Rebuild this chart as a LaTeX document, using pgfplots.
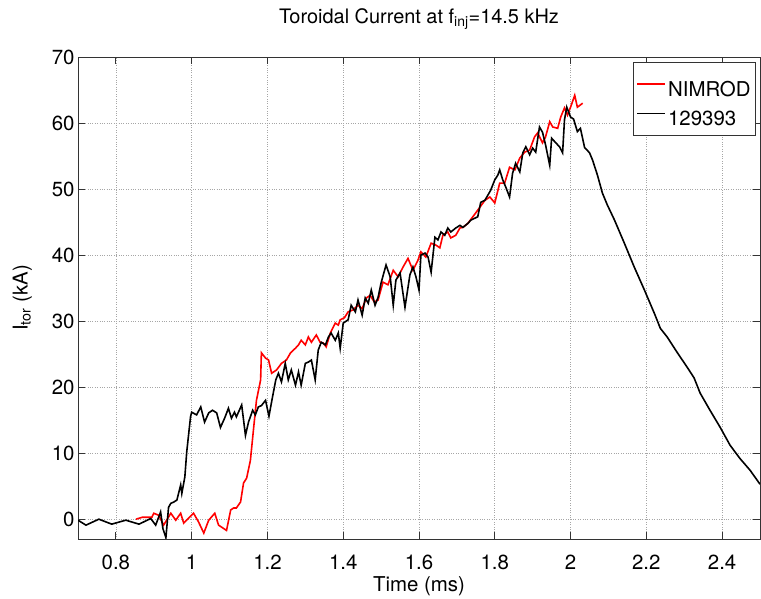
\documentclass[border=0pt]{standalone}
\usepackage{fontspec}
\setmainfont{TeX Gyre Heros}
\usepackage{pgfplots}
\pgfplotsset{compat=1.18}
\definecolor{axgray}{HTML}{333333}
\begin{document}
\begin{tikzpicture}
\useasboundingbox (0,0) rectangle (761bp,599bp);
\begin{axis}[
  at={(78bp,60bp)}, anchor=south west,
  scale only axis, width=682bp, height=482bp,
  xmin=0.7, xmax=2.5, ymin=-3, ymax=70,
  xtick={0.8,1,1.2,1.4,1.6,1.8,2,2.2,2.4},
  ytick={0,10,20,30,40,50,60,70},
  /pgf/number format/assume math mode=true,
  grid=major,
  major grid style={dotted, gray!70, line width=0.7bp},
  tick align=inside, major tick length=7bp,
  axis line style={axgray, line width=0.8bp},
  tick style={axgray, line width=0.8bp},
  tick label style={font=\fontsize{20.5}{24}\selectfont},
  xticklabel style={yshift=-12bp},
  label style={font=\fontsize{20.5}{24}\selectfont},
  xlabel style={yshift=0bp},
  ylabel style={yshift=13bp},
  title style={font=\fontsize{20}{24}\selectfont, yshift=18bp},
  xlabel={Time (ms)},
  ylabel={I\textsubscript{tor} (kA)},
  title={Toroidal Current at f\textsubscript{inj}=14.5 kHz},
  legend cell align=left,
  legend image code/.code={\draw[#1, line width=1.6bp] (0bp,0bp) -- (28bp,0bp);},
  legend style={at={(1,1)}, anchor=north east, xshift=-4bp, yshift=-5bp,
    draw=axgray, line width=0.8bp, font=\fontsize{20.5}{24}\selectfont,
    inner xsep=3bp, inner ysep=6bp, row sep=-2bp,
    /tikz/every even column/.append style={text height=26bp}},
]
\addplot[red, line width=1.6bp] coordinates {
(0.853,0.0) (0.870,0.3) (0.895,0.3) (0.900,0.9) (0.913,0.6) (0.926,-0.9) (0.945,0.9)
(0.958,-0.15) (0.971,0.9) (0.979,-0.6) (0.992,0.15) (1.005,0.9) (1.018,-0.4)
(1.032,-2.1) (1.045,-0.15) (1.061,0.9) (1.071,-0.9) (1.092,-1.7) (1.103,1.4)
(1.111,1.7) (1.118,1.7) (1.129,2.6) (1.137,5.5) (1.145,6.2) (1.155,8.9)
(1.163,13.5) (1.171,18.0) (1.182,21.1) (1.184,25.2) (1.195,24.4) (1.203,24.1)
(1.211,22.1) (1.224,22.6) (1.237,23.6) (1.250,24.1) (1.261,25.2) (1.274,25.9)
(1.282,26.4) (1.289,27.1) (1.300,26.4) (1.308,27.6) (1.316,26.8) (1.329,27.9)
(1.339,26.8) (1.347,26.7) (1.355,26.1) (1.366,28.2) (1.379,29.7) (1.387,29.4)
(1.392,30.2) (1.403,30.5) (1.413,31.4) (1.426,31.7) (1.439,32.4) (1.450,31.9)
(1.461,33.5) (1.471,33.9) (1.482,32.9) (1.492,33.2) (1.505,35.9) (1.518,35.5)
(1.532,37.7) (1.545,36.7) (1.558,38.2) (1.571,39.5) (1.584,37.7) (1.597,39.2)
(1.605,40.5) (1.618,39.7) (1.632,41.8) (1.645,41.5) (1.655,41.1) (1.663,43.0)
(1.676,43.5) (1.684,42.6) (1.697,43.0) (1.708,44.1) (1.716,44.2) (1.729,44.8)
(1.755,46.8) (1.774,48.3) (1.787,48.8) (1.800,47.9) (1.813,50.9) (1.826,50.9)
(1.839,53.3) (1.853,52.9) (1.866,54.7) (1.879,55.6) (1.892,55.9) (1.905,57.9)
(1.913,58.5) (1.926,57.0) (1.934,57.9) (1.945,60.2) (1.953,59.4) (1.966,59.2)
(1.974,60.9) (1.984,62.3) (1.992,61.2) (2.000,62.4) (2.011,64.2) (2.018,62.4)
(2.032,63.0)
};
\addlegendentry{NIMROD}
\addplot[black, line width=1.6bp] coordinates {
(0.700,-0.15) (0.721,-0.9) (0.755,0.0) (0.789,-0.75) (0.826,-0.15) (0.861,-0.75)
(0.892,0.1) (0.905,-0.9) (0.918,1.1) (0.924,-1.4) (0.932,-2.8) (0.939,1.8)
(0.945,2.4) (0.953,2.6) (0.961,2.9) (0.971,5.2) (0.974,3.9) (0.982,6.4)
(0.987,10.2) (0.997,15.5) (1.000,16.2) (1.013,15.8) (1.024,17.0) (1.034,14.7)
(1.045,16.1) (1.055,16.5) (1.066,16.1) (1.076,13.9) (1.087,15.3) (1.097,16.8)
(1.105,15.3) (1.113,16.2) (1.118,15.5) (1.132,17.3) (1.142,12.7) (1.150,14.7)
(1.161,16.5) (1.168,15.8) (1.176,17.0) (1.184,17.2) (1.195,18.0) (1.204,15.6)
(1.213,18.4) (1.222,21.1) (1.229,22.1) (1.237,20.8) (1.247,23.6) (1.255,21.1)
(1.263,22.6) (1.274,20.3) (1.282,22.3) (1.289,20.3) (1.300,23.6) (1.308,23.8)
(1.316,24.1) (1.326,21.1) (1.334,25.6) (1.342,26.8) (1.353,26.4) (1.361,27.6)
(1.368,28.2) (1.379,27.1) (1.387,28.2) (1.392,25.9) (1.400,29.7) (1.413,30.2)
(1.421,32.4) (1.432,31.4) (1.439,33.2) (1.450,30.9) (1.458,33.5) (1.466,32.7)
(1.474,34.7) (1.484,32.4) (1.492,33.6) (1.500,35.8) (1.513,38.5) (1.524,36.7)
(1.532,32.4) (1.539,36.2) (1.550,37.3) (1.563,32.1) (1.576,37.0) (1.584,38.2)
(1.592,36.7) (1.600,34.7) (1.605,40.0) (1.616,40.3) (1.624,39.7) (1.632,37.4)
(1.642,42.7) (1.650,42.3) (1.658,43.5) (1.668,43.0) (1.676,44.1) (1.684,43.5)
(1.697,44.1) (1.708,44.5) (1.716,44.2) (1.729,44.8) (1.737,45.3) (1.755,45.8)
(1.763,48.0) (1.774,48.3) (1.782,49.1) (1.789,49.8) (1.800,51.4) (1.808,52.1)
(1.813,52.9) (1.821,51.4) (1.829,50.3) (1.839,48.8) (1.847,52.4) (1.855,53.9)
(1.866,52.6) (1.874,55.5) (1.882,56.4) (1.892,55.2) (1.900,56.2) (1.908,55.6)
(1.918,59.4) (1.926,58.6) (1.934,56.7) (1.945,53.6) (1.950,57.7) (1.961,57.0)
(1.971,56.4) (1.979,55.5) (1.984,60.5) (1.990,62.4) (2.000,60.9) (2.008,60.6)
(2.018,58.7) (2.026,59.2) (2.037,56.3) (2.050,55.5) (2.058,54.4) (2.071,52.1)
(2.084,49.4) (2.097,47.6) (2.116,45.3) (2.142,41.8) (2.168,38.2) (2.195,34.7)
(2.221,31.2) (2.237,28.9) (2.255,27.6) (2.282,25.2) (2.308,23.0) (2.326,21.4)
(2.342,19.1) (2.368,16.5) (2.395,13.9) (2.421,11.2) (2.447,9.2) (2.474,7.4)
(2.500,5.3)
};
\addlegendentry{129393}
\end{axis}
\end{tikzpicture}
\end{document}
